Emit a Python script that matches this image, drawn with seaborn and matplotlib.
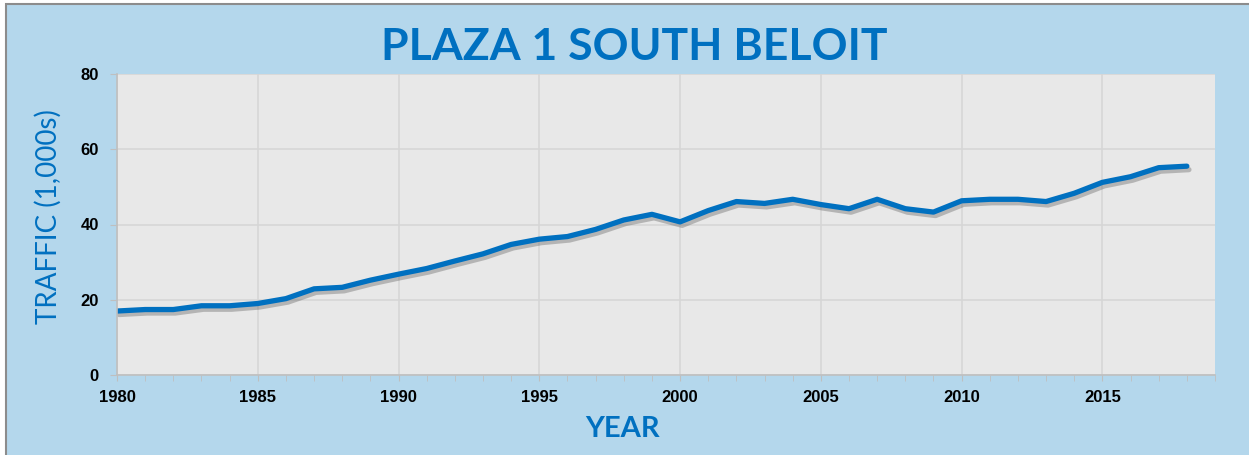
import matplotlib
matplotlib.use("Agg")
import matplotlib.pyplot as plt
import matplotlib.patheffects as pe
from matplotlib.patches import Rectangle
from matplotlib.ticker import MultipleLocator
import seaborn as sns

# Traffic data
years = list(range(1980, 2019))
traffic = [17.0, 17.4, 17.4, 18.4, 18.4, 19.0, 20.3, 22.9, 23.3, 25.2,
           26.8, 28.3, 30.3, 32.2, 34.7, 36.1, 36.8, 38.7, 41.2, 42.7,
           40.7, 43.7, 46.1, 45.6, 46.7, 45.3, 44.2, 46.7, 44.2, 43.3,
           46.3, 46.7, 46.7, 46.1, 48.3, 51.2, 52.7, 55.1, 55.5]
x_ticks = [1980, 1985, 1990, 1995, 2000, 2005, 2010, 2015]
y_ticks = [0, 20, 40, 60, 80]

blue = "#0070C0"
bg = "#B4D7EC"

sns.set_style("whitegrid", {"axes.facecolor": "#E8E8E8", "grid.color": "#D6D6D6"})
plt.rcParams['font.family'] = ['Liberation Sans', 'DejaVu Sans']

fig = plt.figure(figsize=(12.49, 4.55), dpi=100)
fig.patch.set_facecolor("white")
fig.patches.append(Rectangle((6 / 1249, -0.05), 1.0, 1.05 - 4 / 455,
                             transform=fig.transFigure, facecolor=bg,
                             edgecolor="#8C8C8C", linewidth=1.5, zorder=-1))

ax = fig.add_axes([117 / 1249, 80 / 455, 1098 / 1249, 301 / 455])
sns.lineplot(x=years, y=traffic, ax=ax, color=blue, linewidth=3.8,
             path_effects=[pe.SimpleLineShadow(offset=(1.5, -2.5), alpha=0.35, shadow_color="#555555"),
                           pe.Normal()])
ax.lines[0].set_solid_capstyle("round")

ax.set_xlim(1980, 2019)
ax.set_ylim(0, 80)
ax.set_xticks(x_ticks)
ax.set_yticks(y_ticks)
ax.xaxis.set_minor_locator(MultipleLocator(1))
ax.tick_params(axis="x", which="both", direction="out", length=4, color="#BFBFBF",
               bottom=True, pad=7)
ax.tick_params(axis="y", direction="out", length=5, color="#BFBFBF", left=True, pad=8)
for lab in ax.get_xticklabels() + ax.get_yticklabels():
    lab.set_fontweight("bold")
    lab.set_fontsize(12)
    lab.set_color("black")

ax.grid(True, which="major", linewidth=1.2)
for s in ["top", "right"]:
    ax.spines[s].set_visible(False)
for s in ["left", "bottom"]:
    ax.spines[s].set_visible(True)
    ax.spines[s].set_color("#BFBFBF")
    ax.spines[s].set_linewidth(1.2)

ax.set_xlabel("")
ax.set_ylabel("")
fig.text(0.508, 0.896, "PLAZA 1 SOUTH BELOIT", ha="center", va="center",
         fontsize=32, fontweight="bold", color=blue, family="Lato")
fig.text(0.498, 0.058, "YEAR", ha="center", va="center",
         fontsize=21, fontweight="bold", color=blue, family="Lato")
fig.text(0.039, 0.524, "TRAFFIC (1,000s)", ha="center", va="center", rotation=90,
         fontsize=20, fontweight="normal", color=blue, family="Lato")

fig.savefig("out.png", dpi=100)
